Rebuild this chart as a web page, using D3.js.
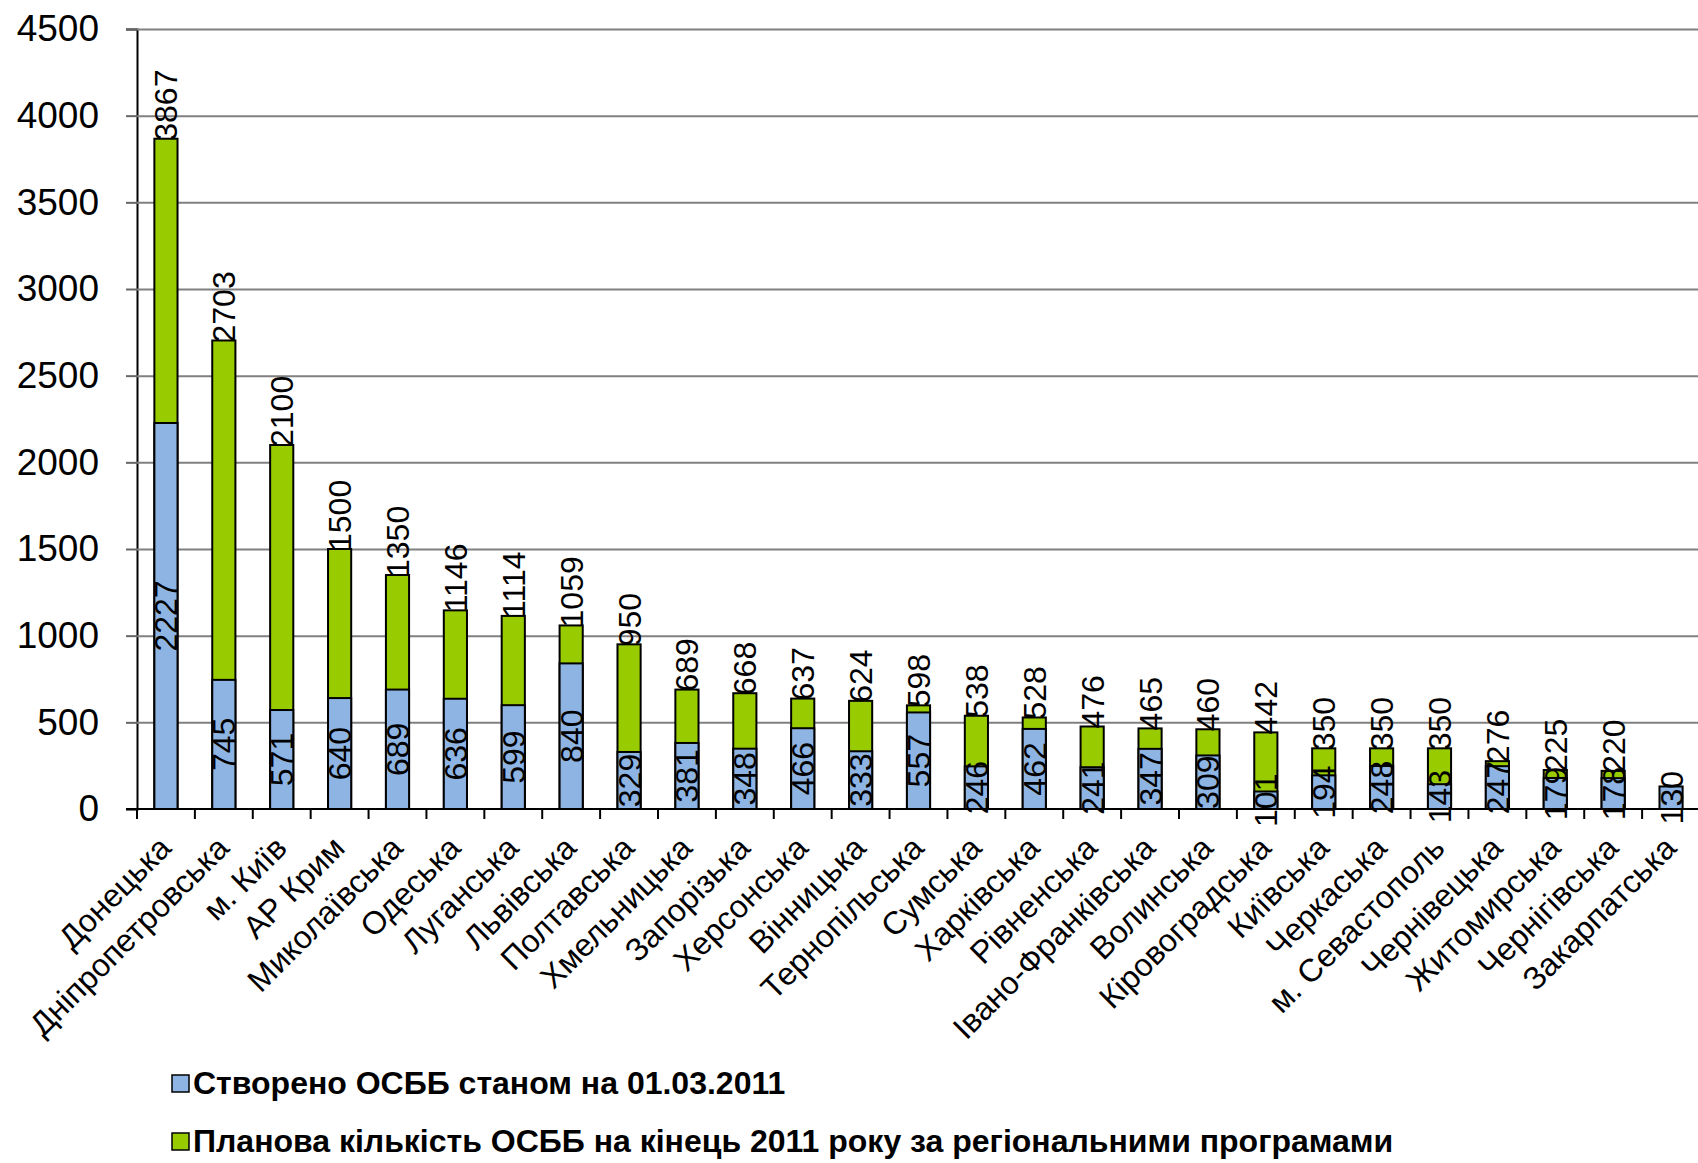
<!DOCTYPE html>
<html>
<head>
<meta charset="utf-8">
<script src="https://cdn.jsdelivr.net/npm/d3@7"></script>
<style>
  body { margin: 0; background: #fff; }
  text { font-family: "Liberation Sans", Arial, sans-serif; fill: #000; }
</style>
</head>
<body>
<svg class="mainSvg"></svg>
<script>
(function () {
  // ===========================================================================
  //     data area
  // ===========================================================================
  const regions = [
    'Донецька', 'Дніпропетровська', 'м. Київ', 'АР Крим', 'Миколаївська',
    'Одеська', 'Луганська', 'Львівська', 'Полтавська', 'Хмельницька',
    'Запорізька', 'Херсонська', 'Вінницька', 'Тернопільська', 'Сумська',
    'Харківська', 'Рівненська', 'Івано-Франківська', 'Волинська', 'Кіровоградська',
    'Київська', 'Черкаська', 'м. Севастополь', 'Чернівецька', 'Житомирська',
    'Чернігівська', 'Закарпатська',
  ];
  // planned by end of 2011 (green, drawn behind)
  const planned = [
    3867, 2703, 2100, 1500, 1350, 1146, 1114, 1059, 950, 689,
    668, 637, 624, 598, 538, 528, 476, 465, 460, 442,
    350, 350, 350, 276, 225, 220, null,
  ];
  // created as of 01.03.2011 (blue, drawn in front)
  const created = [
    2227, 745, 571, 640, 689, 636, 599, 840, 329, 381,
    348, 466, 333, 557, 246, 462, 241, 347, 309, 101,
    194, 248, 143, 247, 179, 178, 130,
  ];
  const yTicks = [0, 500, 1000, 1500, 2000, 2500, 3000, 3500, 4000, 4500];
  const legendLabels = [
    'Створено ОСББ станом на 01.03.2011',
    'Планова кількість ОСББ на кінець 2011 року за регіональними програмами',
  ];

  const initWidth = 1698;
  const initHeight = 1163;
  const plotLeft = 137;
  const plotRight = 1700;
  const plotTop = 29;
  const plotBottom = 809;
  const blueColor = '#8db4e2';
  const greenColor = '#99cc00';

  // ===========================================================================
  //      procedure
  // ===========================================================================
  const svg = d3.select('.mainSvg')
    .attr('width', initWidth)
    .attr('height', initHeight);

  const x = d3.scaleBand()
    .domain(regions)
    .range([plotLeft, plotRight])
    .paddingInner(0.6)
    .paddingOuter(0.3);
  const xb = d3.scaleBand().domain(regions).range([plotLeft, plotRight]);

  const y = d3.scaleLinear()
    .domain([0, 4500])
    .range([plotBottom, plotTop]);

  // gridlines + y axis
  const yAxis = svg.append('g')
    .attr('transform', `translate(${plotLeft},0)`)
    .call(d3.axisLeft(y).tickValues(yTicks).tickFormat(d3.format('d')).tickSize(11).tickPadding(27));
  yAxis.select('.domain').attr('stroke', '#000').attr('stroke-width', 2);
  yAxis.selectAll('.tick line').attr('stroke', '#666').attr('stroke-width', 2);
  yAxis.selectAll('.tick text')
    .attr('font-size', 37)
    .attr('font-family', '"Liberation Sans", Arial, sans-serif');
  yAxis.selectAll('.tick')
    .filter(d => d > 0)
    .append('line')
    .attr('x1', 0)
    .attr('x2', initWidth - plotLeft)
    .attr('stroke', '#808080')
    .attr('stroke-width', 2);

  // ===========================================================================
  //      draw bars
  // ===========================================================================
  const idx = d3.range(regions.length);

  svg.append('g')
    .selectAll('rect')
    .data(idx.filter(i => planned[i] != null))
    .enter()
    .append('rect')
    .attr('x', i => x(regions[i]))
    .attr('y', i => y(planned[i]))
    .attr('width', x.bandwidth())
    .attr('height', i => plotBottom - y(planned[i]))
    .attr('fill', greenColor)
    .attr('stroke', '#000')
    .attr('stroke-width', 2);

  svg.append('g')
    .selectAll('rect')
    .data(idx)
    .enter()
    .append('rect')
    .attr('x', i => x(regions[i]))
    .attr('y', i => y(created[i]))
    .attr('width', x.bandwidth())
    .attr('height', i => plotBottom - y(created[i]))
    .attr('fill', blueColor)
    .attr('stroke', '#000')
    .attr('stroke-width', 2);

  // x axis with ticks at category boundaries
  const xAxis = svg.append('g');
  xAxis.append('line')
    .attr('x1', plotLeft - 11)
    .attr('x2', initWidth)
    .attr('y1', plotBottom)
    .attr('y2', plotBottom)
    .attr('stroke', '#000')
    .attr('stroke-width', 2);
  xAxis.selectAll('line.tk')
    .data(regions.concat(['__end']))
    .enter()
    .append('line')
    .attr('class', 'tk')
    .attr('x1', (d, i) => plotLeft + i * xb.step())
    .attr('x2', (d, i) => plotLeft + i * xb.step())
    .attr('y1', plotBottom)
    .attr('y2', plotBottom + 10)
    .attr('stroke', '#000')
    .attr('stroke-width', 2);
  xAxis.selectAll('text')
    .data(regions)
    .enter()
    .append('text')
    .text(d => d)
    .attr('font-size', 32)
    .attr('text-anchor', 'end')
    .attr('transform', d => `translate(${xb(d) + xb.bandwidth() / 2 + 7},${plotBottom + 41}) rotate(-45)`);

  // ===========================================================================
  //      labels
  // ===========================================================================
  svg.append('g')
    .selectAll('text')
    .data(idx.filter(i => planned[i] != null))
    .enter()
    .append('text')
    .text(i => planned[i])
    .attr('font-size', 32)
    .attr('text-anchor', 'start')
    .attr('dy', '0.36em')
    .attr('transform', i => `translate(${x(regions[i]) + x.bandwidth() / 2},${y(planned[i]) + 2}) rotate(-90)`);

  svg.append('g')
    .selectAll('text')
    .data(idx)
    .enter()
    .append('text')
    .text(i => created[i])
    .attr('font-size', 32)
    .attr('text-anchor', 'middle')
    .attr('dy', '0.36em')
    .attr('transform', i => `translate(${x(regions[i]) + x.bandwidth() / 2},${(y(created[i]) + plotBottom) / 2}) rotate(-90)`);

  // ===========================================================================
  //      legend
  // ===========================================================================
  const legend = svg.append('g');
  [blueColor, greenColor].forEach(function (c, k) {
    const base = 1094 + k * 58;
    legend.append('rect')
      .attr('x', 172)
      .attr('y', base - 19)
      .attr('width', 17)
      .attr('height', 17)
      .attr('fill', c)
      .attr('stroke', '#000')
      .attr('stroke-width', 1.5);
    legend.append('text')
      .text(legendLabels[k])
      .attr('x', 193)
      .attr('y', base)
      .attr('font-size', 32)
      .attr('font-weight', 'bold');
  });
})();
</script>
</body>
</html>
